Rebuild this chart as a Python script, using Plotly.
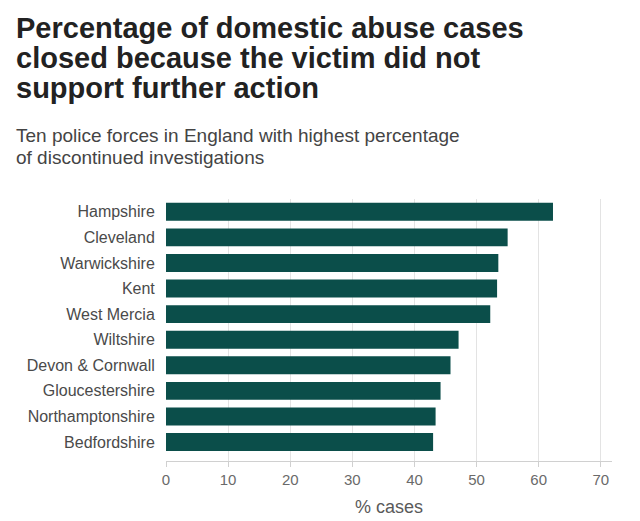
import plotly.graph_objects as go

forces = ["Hampshire", "Cleveland", "Warwickshire", "Kent", "West Mercia",
          "Wiltshire", "Devon & Cornwall", "Gloucestershire", "Northamptonshire", "Bedfordshire"]
pct_cases = [62.3, 55.0, 53.5, 53.3, 52.2, 47.1, 45.8, 44.2, 43.4, 43.0]
x_ticks = [0, 10, 20, 30, 40, 50, 60, 70]
title_lines = ["Percentage of domestic abuse cases",
               "closed because the victim did not",
               "support further action"]
subtitle_lines = ["Ten police forces in England with highest percentage",
                  "of discontinued investigations"]

BAR = "#0b4e4a"
FONT = "Liberation Sans, Arial, Helvetica, sans-serif"

fig = go.Figure(go.Bar(
    x=pct_cases, y=forces, orientation="h",
    marker=dict(color=BAR, line=dict(width=0)),
    width=0.7, hoverinfo="x+y",
))

L, R, T, B = 166, 28, 199, 60
W = 640 - L - R
H = 521 - T - B


def px_x(px):
    return (px - L) / W


def px_y(py):
    return (521 - B - py) / H


annotations = []
TS = 29
for i, line in enumerate(title_lines):
    baseline = 38 + i * 30
    annotations.append(dict(
        text="<b>" + line + "</b>", xref="paper", yref="paper",
        x=px_x(14), y=px_y(baseline - 0.33 * TS),
        xanchor="left", yanchor="middle", showarrow=False, align="left",
        font=dict(family=FONT, size=TS, color="#222222"),
    ))
SS = 19
for i, line in enumerate(subtitle_lines):
    baseline = 142 + i * 21.7
    annotations.append(dict(
        text=line, xref="paper", yref="paper",
        x=px_x(14), y=px_y(baseline - 0.33 * SS),
        xanchor="left", yanchor="middle", showarrow=False, align="left",
        font=dict(family=FONT, size=SS, color="#444444"),
    ))

fig.update_layout(
    width=640, height=521,
    margin=dict(l=L, r=R, t=T, b=B, pad=0, autoexpand=False),
    paper_bgcolor="white", plot_bgcolor="white",
    font=dict(family=FONT, color="#444444", size=14),
    showlegend=False,
    xaxis=dict(
        range=[0, 71.8], tickvals=x_ticks, ticktext=[str(v) for v in x_ticks],
        showgrid=True, gridcolor="#e3e3e3", gridwidth=1,
        zeroline=False, showline=True, linecolor="#d0d0d0", linewidth=1,
        ticks="outside", ticklen=5, tickcolor="#d0d0d0",
        tickfont=dict(size=15, color="#6a6a6a"),
        title=dict(text="% cases", font=dict(size=18, color="#5a5a5a"), standoff=13),
        automargin=False,
        fixedrange=True,
    ),
    yaxis=dict(
        categoryorder="array", categoryarray=forces,
        range=[9.74, -0.5],
        showgrid=False, zeroline=False, showline=False,
        ticks="outside", ticklen=7, tickcolor="rgba(0,0,0,0)",
        tickfont=dict(size=16, color="#4a4a4a"),
        automargin=False,
        fixedrange=True,
    ),
    annotations=annotations,
)

fig.write_html("out.html")
